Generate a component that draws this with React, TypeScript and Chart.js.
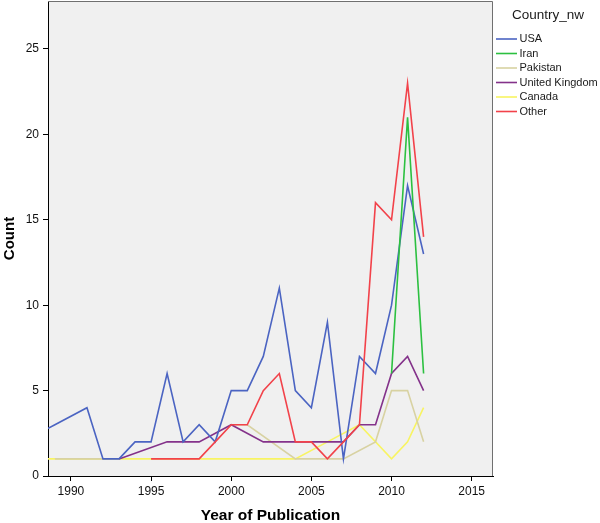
import { useEffect, useRef } from "react";
import { Chart, registerables } from "chart.js";

Chart.register(...registerables);

// ---------- data ----------
const years = [
  1987, 1988, 1989, 1990, 1991, 1992, 1993, 1994, 1995, 1996, 1997, 1998, 1999,
  2000, 2001, 2002, 2003, 2004, 2005, 2006, 2007, 2008, 2009, 2010, 2011, 2012,
];
const seriesNames = ["USA", "Iran", "Pakistan", "United Kingdom", "Canada", "Other"];
const usaCounts = [2, null, 3, null, 4, 1, 1, 2, 2, 6, 2, 3, 2, 5, 5, 7, 11, 5, 4, 9, 1, 7, 6, 10, 17, 13];
const iranCounts = [null, null, null, null, null, null, null, null, null, null, null, null, null, null, null, null, null, null, null, null, null, null, null, 6, 21, 6];
const pakistanCounts = [null, null, 1, null, null, null, 1, null, null, null, null, null, null, 3, 3, null, null, 1, null, 1, 1, null, 2, 5, 5, 2];
const ukCounts = [null, null, null, null, null, null, 1, null, null, 2, 2, 2, null, 3, null, 2, 2, 2, 2, 2, 2, 3, 3, 6, 7, 5];
const canadaCounts = [null, 1, null, 1, null, null, 1, null, 1, null, null, 1, null, null, 1, null, null, 1, null, 2, null, 3, null, 1, 2, 4];
const otherCounts = [null, null, null, null, null, null, null, null, 1, 1, 1, 1, 2, 3, 3, 5, 6, 2, 2, 1, 2, 3, 16, 15, 23, 14];

const xTickValues = [1990, 1995, 2000, 2005, 2010, 2015];
const yTickValues = [0, 5, 10, 15, 20, 25];
const xTitle = "Year of Publication";
const yTitle = "Count";
const legendTitle = "Country_nw";

// ---------- styles ----------
const seriesValues = [usaCounts, iranCounts, pakistanCounts, ukCounts, canadaCounts, otherCounts];
const seriesColors = ["#4b64c2", "#2cc040", "#d8d2a2", "#84328a", "#f8f462", "#f2424a"];
const drawOrder = [2, 1, 4, 3, 5, 0];
const FONT = '"Liberation Sans", Arial, sans-serif';

const backgroundPlugin = {
  id: "bgFrame",
  beforeDraw(chart: any) {
    const { ctx, chartArea: a } = chart;
    ctx.save();
    ctx.fillStyle = "#ffffff";
    ctx.fillRect(0, 0, chart.width, chart.height);
    ctx.fillStyle = "#f0f0f0";
    ctx.fillRect(a.left, a.top, a.right - a.left, a.bottom - a.top);
    ctx.restore();
  },
  afterDraw(chart: any) {
    const { ctx, chartArea: a } = chart;
    ctx.save();
    ctx.strokeStyle = "#707070";
    ctx.lineWidth = 1;
    ctx.beginPath();
    ctx.moveTo(a.left, a.top + 0.5);
    ctx.lineTo(a.right - 0.5, a.top + 0.5);
    ctx.lineTo(a.right - 0.5, a.bottom);
    ctx.stroke();
    ctx.restore();
  },
};

const legendPlugin = {
  id: "sideLegend",
  afterDraw(chart: any) {
    const ctx = chart.ctx;
    const a = chart.chartArea;
    ctx.save();
    ctx.fillStyle = "#1a1a1a";
    ctx.textBaseline = "middle";
    ctx.textAlign = "left";
    ctx.font = `13.5px ${FONT}`;
    ctx.fillText(legendTitle, a.right + 19, 15);
    ctx.font = `11px ${FONT}`;
    chart.data.datasets.forEach((ds: any, i: number) => {
      const y = 39 + i * 14.5;
      ctx.strokeStyle = ds.borderColor;
      ctx.lineWidth = 1.6;
      ctx.beginPath();
      ctx.moveTo(a.right + 3, y);
      ctx.lineTo(a.right + 24, y);
      ctx.stroke();
      ctx.fillText(ds.label, a.right + 26.5, y);
    });
    ctx.restore();
  },
};

export default function App() {
  const ref = useRef<HTMLCanvasElement>(null);

  useEffect(() => {
    document.body.style.margin = "0";
    const canvas = ref.current;
    if (!canvas) return;
    const toPoints = (vals: (number | null)[]) =>
      years
        .map((yr, i) => ({ x: yr, y: vals[i] }))
        .filter((p) => p.y !== null);

    const chart = new Chart(canvas, {
      type: "line",
      data: {
        datasets: seriesNames.map((name, i) => ({
          label: name,
          data: toPoints(seriesValues[i]) as any,
          borderColor: seriesColors[i],
          backgroundColor: seriesColors[i],
          borderWidth: 1.6,
          pointRadius: 0,
          pointHoverRadius: 0,
          tension: 0,
          fill: false,
          spanGaps: 4,
          order: drawOrder[i],
        })),
      },
      options: {
        responsive: false,
        animation: false,
        devicePixelRatio: 1,
        layout: { padding: { top: 1, right: 107, left: 0, bottom: 0 } },
        plugins: { legend: { display: false }, tooltip: { enabled: false } },
        events: [],
        scales: {
          x: {
            type: "linear",
            min: 1988.57,
            max: 2016.33,
            afterBuildTicks: (s: any) => {
              s.ticks = xTickValues.map((v) => ({ value: v }));
            },
            afterFit: (s: any) => {
              s.height = 47;
              s.paddingLeft = 0;
              s.paddingRight = 0;
            },
            grid: { drawOnChartArea: false, drawTicks: true, tickLength: 5, color: "#000" },
            border: { display: true, color: "#000", width: 1 },
            ticks: {
              font: { family: FONT, size: 12 },
              color: "#111",
              padding: 3,
              maxRotation: 0,
              autoSkip: false,
              callback: (v: any) => String(v),
            },
            title: {
              display: true,
              text: xTitle,
              color: "#000",
              font: { family: FONT, size: 15.5, weight: "bold", lineHeight: 1 },
              padding: { top: 0, bottom: 0 },
            },
          },
          y: {
            type: "linear",
            min: 0,
            max: 27.81,
            afterBuildTicks: (s: any) => {
              s.ticks = yTickValues.map((v) => ({ value: v }));
            },
            afterFit: (s: any) => {
              s.width = 48;
              s.paddingTop = 0;
              s.paddingBottom = 0;
            },
            grid: { drawOnChartArea: false, drawTicks: true, tickLength: 5, color: "#000" },
            border: { display: true, color: "#000", width: 1 },
            ticks: {
              font: { family: FONT, size: 12 },
              color: "#111",
              padding: 4,
              autoSkip: false,
              callback: (v: any) => String(v),
            },
            title: {
              display: true,
              text: yTitle,
              color: "#000",
              font: { family: FONT, size: 15, weight: "bold", lineHeight: 1 },
              padding: { top: 2, bottom: 0 },
            },
          },
        },
      },
      plugins: [backgroundPlugin, legendPlugin],
    });

    return () => chart.destroy();
  }, []);

  return <canvas ref={ref} width={600} height={523} style={{ display: "block" }} />;
}
